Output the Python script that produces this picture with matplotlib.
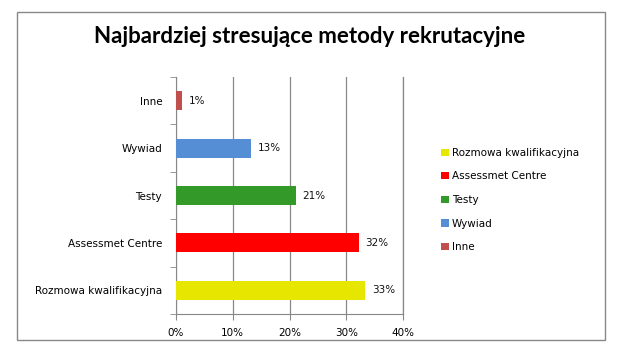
import matplotlib.pyplot as plt
from matplotlib.patches import Patch, Rectangle
from matplotlib.ticker import FuncFormatter, FixedLocator

# categories listed bottom to top, like in the original chart
categories = ["Rozmowa kwalifikacyjna", "Assessmet Centre", "Testy", "Wywiad", "Inne"]
values = [33.3, 32.2, 21.1, 13.2, 1.0]
labels = ["33%", "32%", "21%", "13%", "1%"]
colors = ["#E6E600", "#FF0000", "#339A2A", "#558ED5", "#C0504D"]

plt.rcParams["font.family"] = ["DejaVu Sans"]

fig = plt.figure(figsize=(6.17, 3.57), dpi=100)
fig.patch.set_facecolor("white")

# outer chart border
fig.add_artist(Rectangle((0.0276, 0.0476), 0.953, 0.9184, transform=fig.transFigure,
                         fill=False, edgecolor="#888888", linewidth=1.0))

ax = fig.add_axes([0.2853, 0.1204, 0.3679, 0.6639])

pos = list(range(len(categories)))
ax.barh(pos, values, height=0.4, color=colors, zorder=3)

for p, v, lab in zip(pos, values, labels):
    ax.text(v + 1.2, p, lab, va="center", ha="left", fontsize=7.5, color="#111111")

ax.set_xlim(0, 40)
ax.set_ylim(-0.5, len(categories) - 0.5)
ax.set_xticks([0, 10, 20, 30, 40])
ax.xaxis.set_major_formatter(FuncFormatter(lambda x, _: f"{int(x)}%"))
ax.set_yticks(pos)
ax.set_yticklabels(categories, fontsize=7.5)
ax.yaxis.set_minor_locator(FixedLocator([p - 0.5 for p in pos] + [len(pos) - 0.5]))
ax.tick_params(axis="y", which="major", length=0, pad=10)
ax.tick_params(axis="y", which="minor", length=4, color="#888888")
ax.tick_params(axis="x", length=4, color="#888888", labelsize=7.5, pad=6)

ax.grid(axis="x", color="#888888", linewidth=0.9, zorder=0)
ax.spines["top"].set_visible(False)
for side in ["left", "bottom", "right"]:
    ax.spines[side].set_color("#888888")
ax.spines["right"].set_linewidth(0.9)

fig.text(0.5024, 0.897, "Najbardziej stresujące metody rekrutacyjne",
         ha="center", va="center", fontsize=16, fontweight="bold", family="Lato")

handles = [Patch(facecolor=c, edgecolor="none") for c in colors]
fig.legend(handles, categories, loc="upper left", bbox_to_anchor=(0.70, 0.612),
           frameon=False, fontsize=7.5, handlelength=0.7, handleheight=0.7,
           handletextpad=0.3, labelspacing=1.3)

fig.savefig("out.png", dpi=100)
